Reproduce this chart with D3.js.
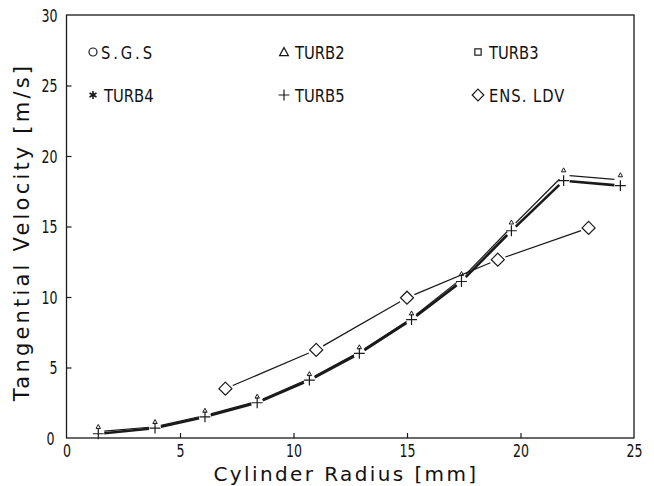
<!DOCTYPE html>
<html><head><meta charset="utf-8">
<script src="https://cdn.jsdelivr.net/npm/d3@7"></script>
<style>
html,body{margin:0;padding:0;background:#fff;}
svg{display:block;}
text{font-family:"DejaVu Sans","Liberation Sans",sans-serif;fill:#111;}
</style></head>
<body>
<svg id="c" width="654" height="486"></svg>
<script>
// ---- data ----
const radius = [1.4, 3.9, 6.1, 8.4, 10.7, 12.9, 15.2, 17.4, 19.6, 21.9, 24.4];
const turb5  = [0.3, 0.7, 1.5, 2.5, 4.1, 6.0, 8.4, 11.1, 14.7, 18.25, 17.9];
const turb2  = [0.45, 0.8, 1.6, 2.6, 4.2, 6.1, 8.5, 11.3, 14.95, 18.65, 18.3];
const ldvRadius = [7, 11, 15, 19, 23];
const ldv       = [3.5, 6.25, 9.95, 12.65, 14.9];
const xTicks = [0, 5, 10, 15, 20, 25];
const yTicks = [0, 5, 10, 15, 20, 25, 30];
const legendNames = ["S.G.S", "TURB2", "TURB3", "TURB4", "TURB5", "ENS. LDV"];
const legendSymbols = ["circle", "triangle", "square", "asterisk", "plus", "diamond"];
const xTitle = "Cylinder Radius [mm]";
const yTitle = "Tangential Velocity [m/s]";

// ---- chart ----
const svg = d3.select("#c");
const L = 66.5, R = 634, T = 15, B = 438;
const x = d3.scaleLinear().domain([0, 25]).range([L, R]);
const y = d3.scaleLinear().domain([0, 30]).range([B, T]);
const ink = "#1a1a1a";

// frame
svg.append("rect").attr("x", L).attr("y", T).attr("width", R - L).attr("height", B - T)
  .attr("fill", "none").attr("stroke", ink).attr("stroke-width", 1.3);

// axes (inward ticks)
const xAxis = svg.append("g").attr("transform", `translate(0,${B})`)
  .call(d3.axisBottom(x).tickValues(xTicks).tickSize(-5).tickPadding(0).tickFormat(d3.format("d")));
const yAxis = svg.append("g").attr("transform", `translate(${L},0)`)
  .call(d3.axisLeft(y).tickValues(yTicks).tickSize(-5).tickPadding(0).tickFormat(d3.format("d")));
[xAxis, yAxis].forEach(a => {
  a.select(".domain").remove();
  a.selectAll(".tick line").attr("stroke", ink).attr("stroke-width", 1.2);
  a.selectAll(".tick text").style("font-size", "17.5px").attr("fill", ink);
});
// condensed plotter-like digits
xAxis.selectAll(".tick text").attr("y", 0).attr("dy", 0)
  .attr("transform", "translate(0,19) scale(0.72,1)");
yAxis.selectAll(".tick text").attr("x", 0).attr("dy", "0.36em")
  .attr("transform", d => `translate(${d === 0 ? -12 : -9},0) scale(0.72,1)`);
xAxis.selectAll(".tick").filter(d => d === 0 || d === 25).select("line").remove();
yAxis.selectAll(".tick").filter(d => d === 0 || d === 30).select("line").remove();

// titles
svg.append("text").attr("x", 346).attr("y", 481).attr("text-anchor", "middle")
  .style("font-size", "20px").style("letter-spacing", "2.4px").text(xTitle);
svg.append("text").attr("transform", "translate(29,232) rotate(-90)")
  .attr("text-anchor", "middle").style("font-size", "21px").style("letter-spacing", "3.2px").text(yTitle);

// markers
function marker(g, type, cx, cy, s) {
  const st = {fill: "none", stroke: ink, "stroke-width": 1.2};
  let m;
  if (type === "circle") m = g.append("circle").attr("cx", cx).attr("cy", cy).attr("r", s * 0.5);
  else if (type === "square") m = g.append("rect").attr("x", cx - s * 0.45).attr("y", cy - s * 0.45).attr("width", s * 0.9).attr("height", s * 0.9);
  else if (type === "triangle") m = g.append("path").attr("d", `M${cx - s * 0.55},${cy + s * 0.45}L${cx},${cy - s * 0.55}L${cx + s * 0.55},${cy + s * 0.45}Z`);
  else if (type === "diamond") m = g.append("path").attr("d", `M${cx},${cy - s * 0.65}L${cx + s * 0.65},${cy}L${cx},${cy + s * 0.65}L${cx - s * 0.65},${cy}Z`);
  else if (type === "plus") m = g.append("path").attr("d", `M${cx - s * 0.6},${cy}H${cx + s * 0.6}M${cx},${cy - s * 0.6}V${cy + s * 0.6}`);
  else if (type === "asterisk") {
    const r = s * 0.5, a = r * 0.87;
    m = g.append("path").attr("d", `M${cx},${cy - r}V${cy + r}M${cx - a},${cy - r / 2}L${cx + a},${cy + r / 2}M${cx - a},${cy + r / 2}L${cx + a},${cy - r / 2}`);
    st["stroke-width"] = 1.6;
  }
  Object.entries(st).forEach(([k, v]) => m.attr(k, v));
  return m;
}

// gapped polyline (plotter style: segments stop short of markers)
function gappedLine(xs, ys, gap, width) {
  const g = svg.append("g");
  for (let i = 0; i < xs.length - 1; i++) {
    const x1 = x(xs[i]), y1 = y(ys[i]), x2 = x(xs[i + 1]), y2 = y(ys[i + 1]);
    const dx = x2 - x1, dyy = y2 - y1, len = Math.hypot(dx, dyy);
    const ux = dx / len, uy = dyy / len;
    g.append("line").attr("x1", x1 + ux * gap).attr("y1", y1 + uy * gap)
      .attr("x2", x2 - ux * gap).attr("y2", y2 - uy * gap)
      .attr("stroke", ink).attr("stroke-width", width).attr("stroke-linecap", "butt");
  }
  return g;
}

// ENS. LDV
gappedLine(ldvRadius, ldv, 8, 1.3);
const gL = svg.append("g");
ldvRadius.forEach((r, i) => marker(gL, "diamond", x(r), y(ldv[i]), 10));

// TURB series
gappedLine(radius, turb5, 6, 2.6);
gappedLine(radius, turb2, 6, 1.2);
const gT = svg.append("g");
radius.forEach((r, i) => marker(gT, "plus", x(r), y(turb5[i]), 9));
radius.forEach((r, i) => marker(gT, "triangle", x(r), y(turb2[i]) - 5, 4).attr("stroke-width", 1));

// legend
const legX = [93, 284, 478], legY = [52, 95];
const gLeg = svg.append("g");
legendNames.forEach((name, i) => {
  const cx = legX[i % 3], cy = legY[Math.floor(i / 3)];
  const sz = {circle: 8, triangle: 8, square: 7, asterisk: 8, plus: 9, diamond: 9}[legendSymbols[i]];
  marker(gLeg, legendSymbols[i], cx, cy, sz);
  gLeg.append("text").attr("transform", `translate(${cx + (i === 0 ? 8 : 11)},${cy + 7}) scale(0.82,1)`)
    .style("font-size", "18px").style("letter-spacing", name === "S.G.S" ? "3.5px" : (name === "ENS. LDV" ? "1.2px" : "0px")).text(name);
});
</script>
</body></html>
